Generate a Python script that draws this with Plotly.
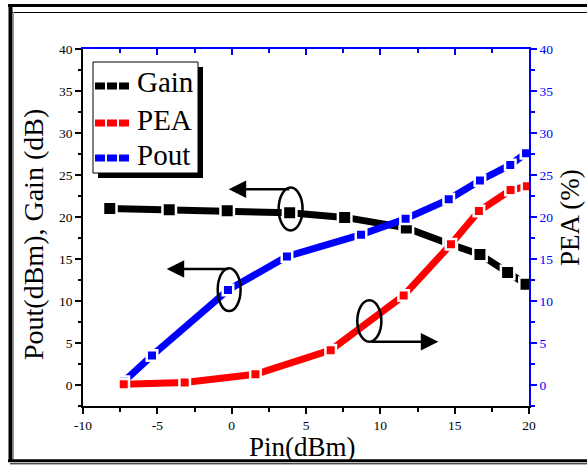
import plotly.graph_objects as go

# ---- data ----
gain_x = [-8.2, -4.2, -0.3, 3.9, 7.6, 11.75, 14.7, 16.7, 18.56, 19.8]
gain_y = [21.0, 20.85, 20.75, 20.5, 19.95, 18.7, 16.75, 15.55, 13.4, 12.0]

pout_x = [-7.26, -5.36, -0.25, 3.72, 8.7, 11.7, 14.6, 16.7, 18.74, 19.8]
pout_y = [0.4, 3.5, 11.3, 15.3, 17.9, 19.8, 22.1, 24.35, 26.2, 27.6]

pea_x = [-7.26, -3.16, 1.6, 6.66, 11.57, 14.75, 16.63, 18.76, 19.86]
pea_y = [0.08, 0.3, 1.27, 4.15, 10.65, 16.75, 20.7, 23.2, 23.65]

series_names = ["Gain", "PEA", "Pout"]

x_ticks = [-10, -5, 0, 5, 10, 15, 20]
x_tick_labels = ["-10", "-5", "0", "5", "10", "15", "20"]
y_ticks = [0, 5, 10, 15, 20, 25, 30, 35, 40]
y_tick_labels = ["0", "5", "10", "15", "20", "25", "30", "35", "40"]

x_range = [-10, 20]
y_range = [-2.5, 40]

FONT = "Liberation Serif, Times New Roman, serif"
BLUE = "#0000ff"
RED = "#ff0000"

W, H = 587, 465
L, R, T, B = 83, 58, 49, 59
PW, PH = W - L - R, H - T - B


def px(xp):
    return (xp - L) / PW


def py(yp):
    return (H - B - yp) / PH


fig = go.Figure()

fig.add_trace(go.Scatter(
    x=gain_x, y=gain_y, name=series_names[0], mode="lines+markers",
    line=dict(color="black", width=7),
    marker=dict(symbol="square", size=13.5, color="black",
                line=dict(color="white", width=2.5)),
))
fig.add_trace(go.Scatter(
    x=pea_x, y=pea_y, name=series_names[1], mode="lines+markers", yaxis="y2",
    line=dict(color=RED, width=7),
    marker=dict(symbol="square", size=10.5, color=RED,
                line=dict(color="white", width=2.5)),
))
fig.add_trace(go.Scatter(
    x=pout_x, y=pout_y, name=series_names[2], mode="lines+markers",
    line=dict(color=BLUE, width=7),
    marker=dict(symbol="square", size=10.5, color=BLUE,
                line=dict(color="white", width=2.5)),
))

# invisible trace to carry top axis
fig.add_trace(go.Scatter(x=[x_range[0]], y=[y_range[0]], xaxis="x2", mode="markers",
                         marker=dict(opacity=0), showlegend=False, hoverinfo="skip"))

tickfont = dict(family=FONT, size=13.5, color="black")

fig.update_layout(
    width=W, height=H,
    margin=dict(l=L, r=R, t=T, b=B),
    paper_bgcolor="white", plot_bgcolor="white",
    showlegend=False,
    xaxis=dict(
        range=x_range, tickvals=x_ticks, ticktext=x_tick_labels,
        showgrid=False, zeroline=False,
        showline=True, linecolor="black", linewidth=1.5,
        ticks="outside", ticklen=6, tickwidth=1.5, tickcolor="black",
        tickfont=tickfont,
        minor=dict(dtick=2.5, ticks="outside", ticklen=4, tickwidth=1.5, tickcolor="black"),
    ),
    xaxis2=dict(
        range=x_range, dtick=5, overlaying="x", side="top", matches="x",
        showgrid=False, zeroline=False, showticklabels=False,
        showline=True, linecolor=BLUE, linewidth=1.5,
        ticks="inside", ticklen=6, tickwidth=1.5, tickcolor=BLUE,
        minor=dict(dtick=2.5, ticks="inside", ticklen=4, tickwidth=1.5, tickcolor=BLUE),
    ),
    yaxis=dict(
        range=y_range, tickvals=y_ticks, ticktext=y_tick_labels,
        showgrid=False, zeroline=False,
        showline=True, linecolor="black", linewidth=1.5,
        ticks="outside", ticklen=6, tickwidth=1.5, tickcolor="black",
        tickfont=tickfont,
        minor=dict(tick0=0, dtick=2.5, ticks="outside", ticklen=3, tickwidth=1.5, tickcolor="black"),
    ),
    yaxis2=dict(
        range=y_range, tickvals=y_ticks, ticktext=y_tick_labels,
        overlaying="y", side="right",
        showgrid=False, zeroline=False,
        showline=True, linecolor=BLUE, linewidth=1.5,
        ticks="outside", ticklen=6, tickwidth=1.5, tickcolor=BLUE,
        tickfont=dict(family=FONT, size=13.5, color=BLUE),
        minor=dict(tick0=0, dtick=2.5, ticks="outside", ticklen=4, tickwidth=1.5, tickcolor=BLUE),
    ),
)

# axis titles
fig.add_annotation(text="Pout(dBm), Gain (dB)", xref="paper", yref="paper",
                   x=px(34), y=py(235), textangle=-90, showarrow=False,
                   xanchor="center", yanchor="middle",
                   font=dict(family=FONT, size=28, color="black"))
fig.add_annotation(text="PEA (%)", xref="paper", yref="paper",
                   x=px(570), y=py(218), textangle=-90, showarrow=False,
                   xanchor="center", yanchor="middle",
                   font=dict(family=FONT, size=27, color="black"))
fig.add_annotation(text="Pin(dBm)", xref="paper", yref="paper",
                   x=px(302), y=py(447), showarrow=False,
                   xanchor="center", yanchor="middle",
                   font=dict(family=FONT, size=27, color="black"))

# ellipses + arrows
ellipses = [(3.16, 18.4, 4.77, 23.5), (-0.94, 8.8, 0.6, 13.9), (8.45, 5.14, 10.07, 10.1)]
for x0, y0, x1, y1 in ellipses:
    fig.add_shape(type="circle", xref="x", yref="y", x0=x0, y0=y0, x1=x1, y1=y1,
                  line=dict(color="black", width=2.5), fillcolor="rgba(0,0,0,0)")

arrows = [((3.97, 23.3), (-0.2, 23.3)), ((-0.13, 13.8), (-4.37, 13.8)), ((9.27, 5.14), (13.9, 5.14))]
for (tx, ty), (hx, hy) in arrows:
    fig.add_annotation(x=hx, y=hy, ax=tx, ay=ty, xref="x", yref="y", axref="x", ayref="y",
                       text="", showarrow=True, arrowhead=2, arrowsize=1.4, arrowwidth=2.5,
                       arrowcolor="black")

# ---- legend box (drawn manually, with drop shadow) ----
fig.add_shape(type="rect", xref="paper", yref="paper",
              x0=px(98), y0=py(178), x1=px(203), y1=py(67),
              fillcolor="black", line=dict(width=0), layer="above")
fig.add_shape(type="rect", xref="paper", yref="paper",
              x0=px(93), y0=py(173), x1=px(198), y1=py(62),
              fillcolor="white", line=dict(color="black", width=1), layer="above")
legend_rows = [(86, "black", 82), (123, RED, 120), (158, BLUE, 155)]
for (sy, col, ty), name in zip(legend_rows, series_names):
    fig.add_shape(type="line", xref="paper", yref="paper",
                  x0=px(95), y0=py(sy), x1=px(129), y1=py(sy),
                  line=dict(color=col, width=7, dash="10px,2px"), layer="above")
    fig.add_annotation(text=name, xref="paper", yref="paper", x=px(135), y=py(ty),
                       xanchor="left", yanchor="middle", showarrow=False,
                       font=dict(family=FONT, size=29, color="black"))

# outer picture frame
frame = [
    (8, 5.5, 587, 5.5, 3, "black"),
    (12, 12.5, 587, 12.5, 1, "black"),
    (10.5, 4, 10.5, 462, 4, "black"),
    (13.5, 12, 13.5, 459, 1, "#999999"),
    (8, 460.8, 587, 460.8, 3, "black"),
    (10, 463.8, 587, 463.8, 1, "black"),
]
for x0, y0, x1, y1, w, c in frame:
    fig.add_shape(type="line", xref="paper", yref="paper",
                  x0=px(x0), y0=py(y0), x1=px(x1), y1=py(y1),
                  line=dict(color=c, width=w))

fig.write_html("out.html", config={"displayModeBar": False},
               post_script="document.body.style.margin='0';document.body.style.overflow='hidden';")
